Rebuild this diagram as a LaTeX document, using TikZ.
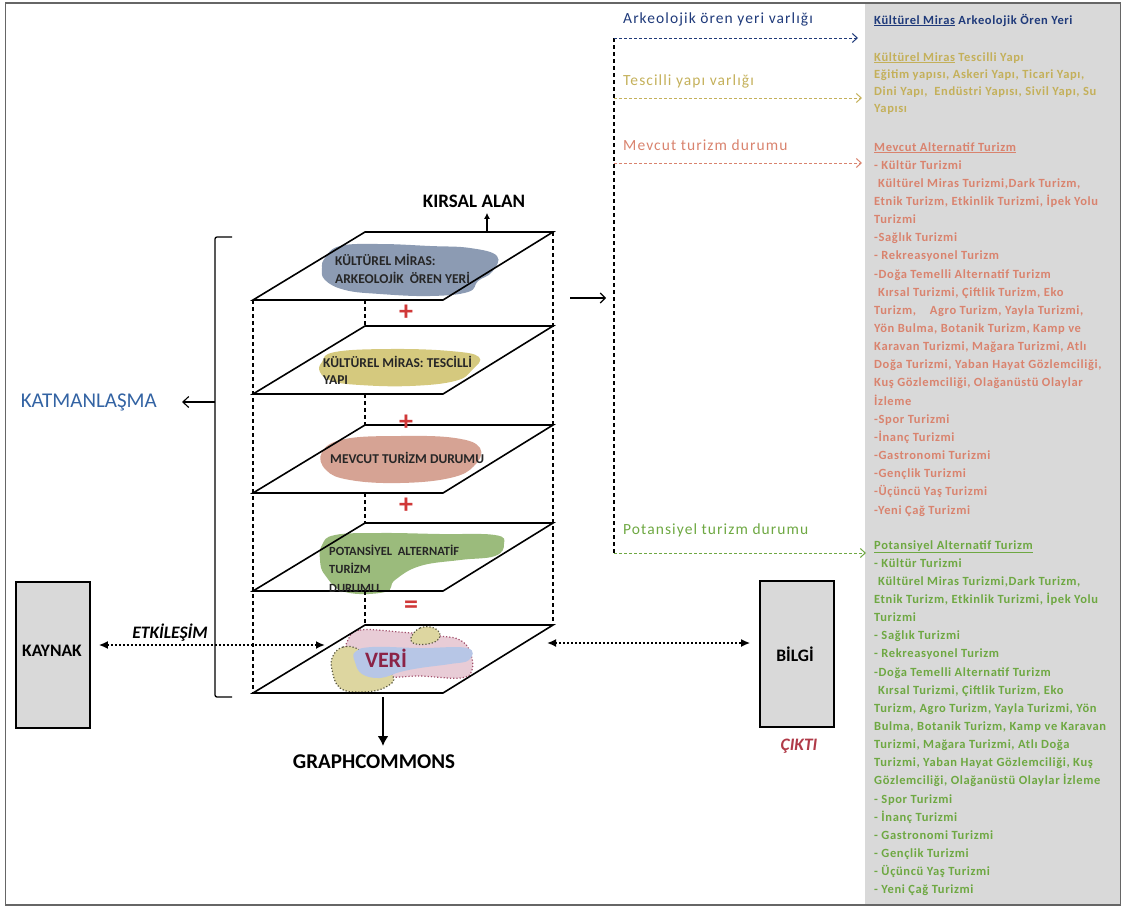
\documentclass[tikz,border=0pt]{standalone}
\usepackage{fontspec}
\setmainfont{Carlito}
\usetikzlibrary{arrows.meta}
\definecolor{cNavy}{HTML}{1F3A7A}
\definecolor{cKhaki}{HTML}{C4B05A}
\definecolor{cSalmon}{HTML}{D9836E}
\definecolor{cGreen}{HTML}{6EA842}
\definecolor{cPanel}{HTML}{D9D9D9}
\definecolor{cKatman}{HTML}{3363A3}
\definecolor{cVeri}{HTML}{8B2346}
\definecolor{cPlus}{HTML}{D03838}
\definecolor{cCikti}{HTML}{B03A48}
\definecolor{bBlue}{HTML}{8C9BB3}
\definecolor{bYellow}{HTML}{D5C97E}
\definecolor{bPink}{HTML}{D6A394}
\definecolor{bGreen}{HTML}{9BBB7C}
\definecolor{vPink}{HTML}{E8CCD6}
\definecolor{vYellow}{HTML}{DDD6A0}
\definecolor{vBlue}{HTML}{B7C6E6}
\tikzset{
  layer/.style={line width=1.6pt, line join=miter},
  hidden/.style={line width=1.2pt, dash pattern=on 4pt off 3pt},
  box/.style={draw=black, line width=1.6pt, fill=cPanel, minimum width=74pt, minimum height=146pt, inner sep=0pt},
  boxtext/.style={font=\fontsize{17.5}{19}\selectfont\bfseries},
  dotarrow/.style={line width=2.4pt, dash pattern=on 2.2pt off 1.8pt, {Latex[length=9pt,width=8pt]}-{Latex[length=9pt,width=8pt]}},
  blobtext/.style={text=black!85, align=left, inner sep=0pt, anchor=west},
  lbl/.style={font=\fontsize{15.5}{18}\selectfont\addfontfeature{LetterSpace=7}, anchor=base west, inner sep=0pt},
  rt/.style={font=\fontsize{12.5}{18}\selectfont\bfseries\addfontfeature{LetterSpace=5}, anchor=base west, inner sep=0pt},
  hline/.style={line width=1pt, dash pattern=on 3pt off 2pt, -{Straight Barb[length=5pt,width=9pt]}},
  plus/.style={font=\fontsize{28}{28}\selectfont\bfseries, text=cPlus, inner sep=0pt}
}
\begin{document}
\begin{tikzpicture}[x=1pt,y=-1pt]
\useasboundingbox (0,0) rectangle (1124,908);
% right panel and frame
\fill[cPanel] (865,3) rectangle (1121,905);
\draw[gray!80!black, line width=1.2pt] (5.5,3) rectangle (1120.5,905);

% ---- blobs ----
\fill[bBlue] plot[smooth cycle, tension=0.7] coordinates {(325,258) (340,246) (380,244) (430,246) (470,248) (497,256) (492,272) (478,281) (468,292) (430,296) (380,294) (345,290) (325,280) (322,268)};
\fill[bYellow] plot[smooth cycle, tension=0.7] coordinates {(322,362) (335,352) (390,349) (450,351) (479,357) (472,370) (455,381) (410,386) (360,385) (332,381) (320,372)};
\fill[bPink] plot[smooth cycle, tension=0.7] coordinates {(322,452) (345,439) (400,436) (455,438) (480,448) (474,466) (450,478) (400,483) (350,480) (326,470)};
\fill[bGreen] plot[smooth cycle, tension=0.7] coordinates {(322,545) (335,535) (380,533) (440,534) (495,535) (504,544) (495,556) (460,560) (420,566) (395,580) (385,592) (345,592) (325,575) (320,560)};
% VERI blobs
\filldraw[fill=vPink, draw=cVeri!80, line width=1.2pt, dotted] plot[smooth cycle, tension=0.7] coordinates {(348,640) (360,630) (400,632) (440,636) (460,640) (470,652) (472,670) (460,678) (420,676) (390,677) (355,672) (346,655)};
\filldraw[fill=vYellow, draw=black!60!vYellow, line width=1.2pt, dotted] plot[smooth cycle, tension=0.7] coordinates {(411,638) (420,628) (434,628) (440,636) (432,643) (416,644)};
\filldraw[fill=vYellow, draw=black!60!vYellow, line width=1.2pt, dotted] plot[smooth cycle, tension=0.7] coordinates {(333,656) (343,647) (358,649) (368,660) (393,676) (384,688) (360,692) (340,688) (332,670)};
\fill[vBlue] plot[smooth cycle, tension=0.7] coordinates {(355,652) (372,647) (420,648) (467,648) (469,660) (450,664) (420,668) (400,672) (380,678) (362,674) (355,662)};

% ---- layers ----
\foreach \t/\n in {232/1,326/2,425/3,523/4,625/5}{
  \coordinate (BL\n) at (253,\t+68);
  \coordinate (BR\n) at (443,\t+68);
  \coordinate (TR\n) at (553,\t);
  \coordinate (TL\n) at (365,\t);
  \draw[layer] (BL\n) -- (BR\n) -- (TR\n) -- (TL\n) -- cycle;
}
% hidden edges
\draw[hidden] (BL1) -- (BL5);
\draw[hidden] (TR1) -- (TR5);
\draw[hidden] (BL1 -| TL1) -- (TL2);
\draw[hidden] (BL2 -| TL2) -- (TL3);
\draw[hidden] (BL3 -| TL3) -- (TL4);
\draw[hidden] (BL4 -| TL4) -- (TL5);

% blob texts
\node[blobtext, font=\fontsize{13.5}{18}\selectfont\bfseries] (t1) at (335,269) {KÜLTÜREL MİRAS:\\ARKEOLOJİK\ \ ÖREN YERİ};
\node[blobtext, font=\fontsize{13.5}{17}\selectfont\bfseries] (t2) at (323,370.5) {KÜLTÜREL MİRAS: TESCİLLİ\\YAPI};
\node[blobtext, font=\fontsize{13.5}{16}\selectfont\bfseries] (t3) at (330,458) {MEVCUT TURİZM DURUMU};
\node[blobtext, font=\fontsize{12.5}{18.5}\selectfont\bfseries] (t4) at (329,568.5) {POTANSİYEL\ \ ALTERNATİF\\TURİZM\\DURUMU};
\node[font=\fontsize{22}{22}\selectfont\bfseries, text=cVeri] (veri) at (386,658) {VERİ};

% plus signs
\node[plus] (p1) at (406,313) {+};
\node[plus] (p2) at (406,423) {+};
\node[plus] (p3) at (406,506) {+};
\node[plus] (eq) at (411,607) {=};

% KIRSAL ALAN
\node[font=\fontsize{19}{21}\selectfont\bfseries] (kirsal) at (474,201) {KIRSAL ALAN};
\coordinate (kirA) at (487,232);
\draw[line width=1.5pt, -{Latex[length=6pt,width=6pt]}] (kirA) -- ([yshift=-2pt]kirA |- kirsal.south);

% bracket and KATMANLASMA
\coordinate (brT) at (232,237);
\coordinate (brB) at (232,697);
\draw[line width=1.3pt, rounded corners=2pt] (brT) -- (215,237) -- (215,697) -- (brB);
\node[font=\fontsize{21}{22}\selectfont, text=cKatman, anchor=east, inner sep=0pt] (katman) at (157,402) {KATMANLAŞMA};
\coordinate (brM) at (215,402);
\draw[line width=1.1pt, -{Straight Barb[length=6pt,width=11pt]}, shorten >=25pt] (brM) -- (katman.east);

% KAYNAK and BILGI
\node[box] (kaynak) at (53,655) {};
\node[boxtext] at (52,651) {KAYNAK};
\node[box] (bilgi) at (797,654) {};
\node[boxtext] at (795,654) {BİLGİ};
\node[boxtext, font=\fontsize{17.5}{19}\selectfont\bfseries\itshape, text=cCikti] (cikti) at (799,746) {ÇIKTI};

\coordinate (etkR) at (325,645);
\draw[dotarrow, shorten <=8pt] (kaynak.east |- etkR) -- (etkR);
\node[font=\fontsize{17.5}{19}\selectfont\bfseries\itshape] (etk) at (170,633) {ETKİLEŞİM};
\coordinate (bilL) at (547,643);
\draw[dotarrow, shorten >=9pt] (bilL) -- (bilL -| bilgi.west);

% GRAPHCOMMONS
\node[font=\fontsize{21}{23}\selectfont\bfseries] (gc) at (374,762) {GRAPHCOMMONS};
\coordinate (gcA) at (383,697);
\coordinate (gcB) at (383,746);
\draw[line width=2.8pt, -{Latex[length=10pt,width=11pt]}] (gcA) -- (gcB);

% arrow stack -> right
\coordinate (sa1) at (570,298);
\coordinate (sa2) at (606,298);
\draw[line width=1.1pt, -{Straight Barb[length=5pt,width=10pt]}] (sa1) -- (sa2);

% right dashed distribution
\coordinate (v0) at (614,38);
\coordinate (v3) at (614,553);
\draw[hidden, line width=1.1pt] (v0) -- (v3);
\coordinate (h0) at (858,38);
\coordinate (h1) at (862,98);
\coordinate (h2) at (862,163);
\coordinate (h3) at (866,553);
\draw[hline, cNavy] (v0) -- (h0);
\draw[hline, cKhaki] (h1 -| v0) -- (h1);
\draw[hline, cSalmon] (h2 -| v0) -- (h2);
\draw[hline, cGreen] (v3) -- (h3);
\node[lbl, text=cNavy] (l0) at (623,23) {Arkeolojik ören yeri varlığı};
\node[lbl, text=cKhaki] (l1) at (623,85) {Tescilli yapı varlığı};
\node[lbl, text=cSalmon] (l2) at (623,150) {Mevcut turizm durumu};
\node[lbl, text=cGreen] (l3) at (623,534) {Potansiyel turizm durumu};

% right panel text
\node[rt, text=cNavy] at (874,24) {\underline{Kültürel Miras} Arkeolojik Ören Yeri};
\foreach \s [count=\i from 0] in {{\underline{Kültürel Miras} Tescilli Yapı},{Eğitim yapısı, Askeri Yapı, Ticari Yapı,},{Dini Yapı,\ \ Endüstri Yapısı, Sivil Yapı, Su},{Yapısı}}
  \node[rt, text=cKhaki] at (874,61+17.2*\i) {\s};
\foreach \s [count=\i from 0] in {{\underline{Mevcut Alternatif Turizm}},{- Kültür Turizmi},{\hspace{4pt}Kültürel Miras Turizmi,Dark Turizm,},{Etnik Turizm, Etkinlik Turizmi, İpek Yolu},{Turizmi},{-Sağlık Turizmi},{- Rekreasyonel Turizm},{-Doğa Temelli Alternatif Turizm},{\hspace{4pt}Kırsal Turizmi, Çiftlik Turizm, Eko},{Turizm,\ \ \ \ Agro Turizm, Yayla Turizmi,},{Yön Bulma, Botanik Turizm, Kamp ve},{Karavan Turizmi, Mağara Turizmi, Atlı},{Doğa Turizmi, Yaban Hayat Gözlemciliği,},{Kuş Gözlemciliği, Olağanüstü Olaylar},{İzleme},{-Spor Turizmi},{-İnanç Turizmi},{-Gastronomi Turizmi},{-Gençlik Turizmi},{-Üçüncü Yaş Turizmi},{-Yeni Çağ Turizmi}}
  \node[rt, text=cSalmon] at (874,151+18.15*\i) {\s};
\foreach \s [count=\i from 0] in {{\underline{Potansiyel Alternatif Turizm}},{- Kültür Turizmi},{\hspace{4pt}Kültürel Miras Turizmi,Dark Turizm,},{Etnik Turizm, Etkinlik Turizmi, İpek Yolu},{Turizmi},{- Sağlık Turizmi},{- Rekreasyonel Turizm},{-Doğa Temelli Alternatif Turizm},{\hspace{4pt}Kırsal Turizmi, Çiftlik Turizm, Eko},{Turizm, Agro Turizm, Yayla Turizmi, Yön},{Bulma, Botanik Turizm, Kamp ve Karavan},{Turizmi, Mağara Turizmi, Atlı Doğa},{Turizmi, Yaban Hayat Gözlemciliği, Kuş},{Gözlemciliği, Olağanüstü Olaylar İzleme},{- Spor Turizmi},{- İnanç Turizmi},{- Gastronomi Turizmi},{- Gençlik Turizmi},{- Üçüncü Yaş Turizmi},{- Yeni Çağ Turizmi}}
  \node[rt, text=cGreen] at (874,549+18.15*\i) {\s};
\end{tikzpicture}
\end{document}
